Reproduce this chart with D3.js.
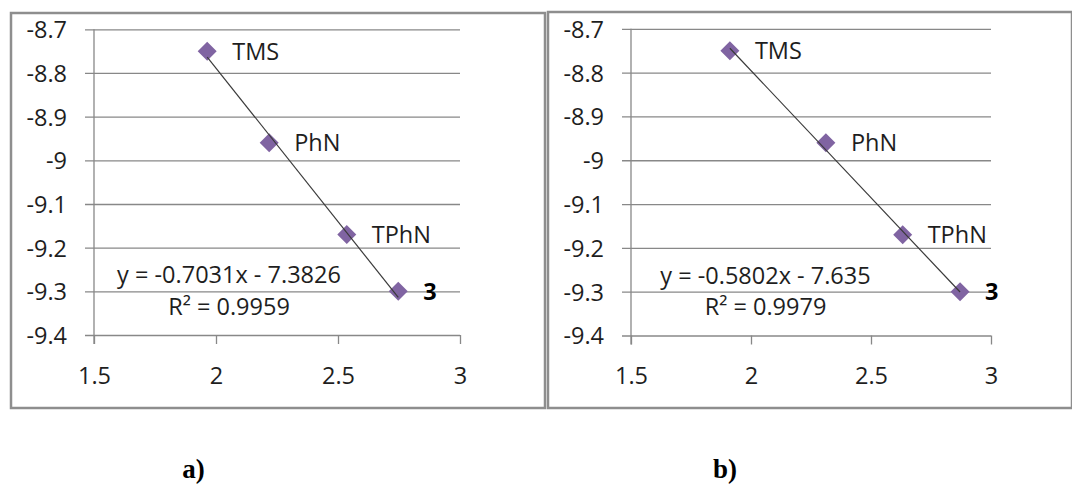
<!DOCTYPE html>
<html>
<head>
<meta charset="utf-8">
<script src="https://cdn.jsdelivr.net/npm/d3@7"></script>
<style>
  html, body { margin: 0; padding: 0; background: #fff; }
  svg { display: block; }
  .tick text { font-family: "Open Sans", sans-serif; font-size: 23.5px; fill: #1e1e1e; }
</style>
</head>
<body>
<svg id="chart" width="1072" height="486"></svg>
<script>
// Measured values for both panels
const pointLabels = ["TMS", "PhN", "TPhN", "3"];
const xA = [1.964, 2.218, 2.536, 2.747];
const yA = [-8.75, -8.96, -9.17, -9.30];
const xB = [1.912, 2.312, 2.632, 2.871];
const yB = [-8.75, -8.96, -9.17, -9.30];

// Linear trendline fits
const slopes = [-0.7031, -0.5802];
const intercepts = [-7.3826, -7.635];
const rSquared = ["0.9959", "0.9979"];

const xTicks = [1.5, 2, 2.5, 3];
const yTicks = [-8.7, -8.8, -8.9, -9, -9.1, -9.2, -9.3, -9.4];
const panelLabels = ["a)", "b)"];

const svg = d3.select("#chart");
const gridColor = "#888888";
const frameColor = "#8e8e8e";
const textColor = "#1e1e1e";
const purple = "#8064a2";
const fontSize = 23.5;

const panels = [
  { xs: xA, ys: yA, frame: [11, 13, 534, 395], left: 94, right: 460, top: 29.3, bottom: 335,
    labelX: 67, eqX: 229, tag: 193.5 },
  { xs: xB, ys: yB, frame: [548, 12, 524, 396], left: 631, right: 991, top: 28.8, bottom: 335.5,
    labelX: 604, eqX: 765.5, tag: 725 }
];

panels.forEach((p, i) => {
  const g = svg.append("g");

  // chart frame
  g.append("rect")
    .attr("x", p.frame[0]).attr("y", p.frame[1])
    .attr("width", p.frame[2]).attr("height", p.frame[3])
    .attr("fill", "#fff").attr("stroke", frameColor).attr("stroke-width", 2.5);

  const x = d3.scaleLinear().domain([1.5, 3]).range([p.left, p.right]);
  const y = d3.scaleLinear().domain([-9.4, -8.7]).range([p.bottom, p.top]);

  // horizontal gridlines + y tick labels
  const gridLen = p.right - p.left + 9;
  const yAxis = g.append("g")
    .attr("transform", `translate(${p.right},0)`)
    .call(d3.axisLeft(y).tickValues(yTicks).tickFormat(d => String(d))
      .tickSize(gridLen).tickPadding(p.left - 9 - p.labelX));
  yAxis.select(".domain").remove();
  yAxis.selectAll(".tick line").attr("stroke", gridColor).attr("stroke-width", 1.3);
  yAxis.selectAll(".tick text").attr("dy", "0.36em").attr("fill", textColor);

  // x axis ticks + labels
  const xAxis = g.append("g")
    .attr("transform", `translate(0,${p.bottom})`)
    .call(d3.axisBottom(x).tickValues(xTicks).tickFormat(d => String(d))
      .tickSize(9).tickPadding(23));
  xAxis.select(".domain").remove();
  xAxis.selectAll(".tick line").attr("stroke", gridColor).attr("stroke-width", 1.3);
  xAxis.selectAll(".tick text").attr("fill", textColor);

  // vertical value axis line
  g.append("line")
    .attr("x1", p.left).attr("x2", p.left)
    .attr("y1", p.top).attr("y2", p.bottom + 9)
    .attr("stroke", gridColor).attr("stroke-width", 1.3);

  const pts = p.xs.map((v, k) => ({ x: v, y: p.ys[k], label: pointLabels[k], k }));

  // diamond markers
  const r = 9.5;
  g.selectAll("path.pt").data(pts).join("path")
    .attr("class", "pt")
    .attr("d", d => {
      const cx = x(d.x), cy = y(d.y);
      return `M${cx},${cy - r}L${cx + r},${cy}L${cx},${cy + r}L${cx - r},${cy}Z`;
    })
    .attr("fill", purple);

  // trendline over the data range
  const x0 = d3.min(p.xs), x1 = d3.max(p.xs);
  const f = v => slopes[i] * v + intercepts[i];
  g.append("line")
    .attr("x1", x(x0)).attr("y1", y(f(x0)))
    .attr("x2", x(x1)).attr("y2", y(f(x1)))
    .attr("stroke", "#3a3a3a").attr("stroke-width", 1.2);

  // point labels
  g.selectAll("text.pl").data(pts).join("text")
    .attr("class", "pl")
    .attr("x", d => x(d.x) + 25)
    .attr("y", d => y(d.y))
    .attr("dy", "0.36em")
    .attr("font-family", "'Open Sans', sans-serif")
    .attr("font-size", fontSize)
    .attr("font-weight", d => d.k === pointLabels.length - 1 ? "bold" : "normal")
    .attr("fill", d => d.k === pointLabels.length - 1 ? "#000" : textColor)
    .text(d => d.label);

  // trendline equation and R²
  const eq = `y = ${slopes[i]}x - ${Math.abs(intercepts[i])}`;
  const base = y(-9.3);
  g.append("text")
    .attr("x", p.eqX).attr("y", base - 8)
    .attr("text-anchor", "middle")
    .attr("font-family", "'Open Sans', sans-serif").attr("font-size", fontSize)
    .attr("fill", textColor)
    .text(eq);
  g.append("text")
    .attr("x", p.eqX).attr("y", base + 23.5)
    .attr("text-anchor", "middle")
    .attr("font-family", "'Open Sans', sans-serif").attr("font-size", fontSize)
    .attr("fill", textColor)
    .text(`R² = ${rSquared[i]}`);

  // panel tag below the chart
  svg.append("text")
    .attr("x", p.tag).attr("y", 478)
    .attr("text-anchor", "middle")
    .attr("font-family", "'Liberation Serif', 'Times New Roman', serif")
    .attr("font-weight", "bold").attr("font-size", 27)
    .attr("fill", "#000")
    .text(panelLabels[i]);
});
</script>
</body>
</html>
